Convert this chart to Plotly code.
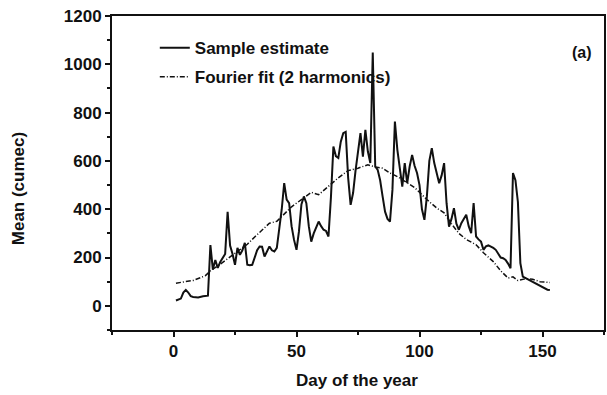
import plotly.graph_objects as go

# Sample estimate (mean daily flow, cumec)
sample_days = [1, 2, 3, 4, 5, 6, 7, 8, 10, 12, 14, 15, 16, 17, 18, 19, 20, 21, 22, 23,
               24, 25, 26, 27, 28, 29, 30, 31, 32, 34, 35, 36, 37, 38, 39, 40, 41, 42, 43, 44,
               45, 46, 47, 48, 49, 50, 51, 52, 53, 54, 55, 56, 57, 58, 59, 60, 61, 62, 63, 64,
               65, 66, 67, 68, 69, 70, 71, 72, 73, 74, 75, 76, 77, 78, 79, 80, 81, 82, 83, 84,
               85, 86, 87, 88, 89, 90, 91, 92, 93, 94, 95, 96, 97, 98, 99, 100, 101, 102, 103, 104,
               105, 106, 107, 108, 109, 110, 111, 112, 113, 114, 115, 116, 117, 118, 119, 120, 121, 122, 123, 124,
               125, 126, 127, 128, 129, 130, 131, 132, 133, 134, 135, 136, 137, 138, 139, 140, 141, 142, 144, 146,
               148, 150, 152, 153]
sample_vals = [22, 25, 30, 55, 66, 55, 40, 37, 35, 40, 42, 252, 150, 190, 157, 182, 199, 215, 389, 250,
               215, 170, 240, 211, 230, 261, 170, 168, 170, 230, 246, 245, 204, 225, 246, 230, 225, 240, 322, 400,
               508, 440, 425, 330, 273, 232, 308, 420, 453, 425, 330, 266, 300, 328, 349, 330, 315, 310, 287, 450,
               660, 620, 612, 680, 715, 720, 530, 418, 467, 560, 646, 715, 618, 729, 640, 591, 1049, 577, 563, 520,
               453, 390, 360, 349, 480, 763, 646, 560, 494, 591, 508, 577, 625, 580, 550, 500, 400, 356, 453, 600,
               653, 591, 550, 508, 540, 591, 425, 328, 360, 404, 340, 315, 342, 360, 377, 330, 301, 425, 287, 275,
               266, 232, 246, 250, 246, 240, 232, 215, 200, 197, 190, 175, 156, 550, 520, 430, 177, 121, 110, 100,
               88, 75, 67, 66]

# Fourier fit (2 harmonics)
fourier_days = [1, 5, 8, 13, 15, 18, 20, 23, 26, 30, 33, 36, 39, 42, 45, 48, 52, 56, 59, 63,
                67, 71, 75, 79, 82, 85, 88, 91, 94, 98, 100, 103, 107, 110, 113, 116, 119, 123, 126, 130,
                133, 136, 138, 140, 143, 146, 149, 153]
fourier_vals = [94, 100, 105, 125, 145, 165, 180, 204, 225, 255, 285, 315, 342, 350, 380, 410, 440, 470, 460, 495,
                530, 560, 570, 584, 575, 570, 550, 535, 515, 490, 470, 440, 405, 385, 340, 300, 275, 253, 220, 183,
                145, 115, 120, 105, 112, 110, 100, 97]

x_ticks = [0, 50, 100, 150]
y_ticks = [0, 200, 400, 600, 800, 1000, 1200]

FONT = "Liberation Sans, Arial, sans-serif"
INK = "#111111"
FS = 17

fig = go.Figure()
fig.add_trace(go.Scatter(x=sample_days, y=sample_vals, mode="lines", name="<b>Sample estimate</b>",
                         legendgroup="a",
                         line=dict(color=INK, width=2)))
fig.add_trace(go.Scatter(x=fourier_days, y=fourier_vals, mode="lines", name="<b>Fourier fit (2 harmonics)</b>",
                         legendgroup="b",
                         line=dict(color=INK, width=1.5, dash="5px,2px,1px,2px")))

fig.update_layout(
    width=607, height=395,
    margin=dict(l=112, r=1, t=16, b=65),
    paper_bgcolor="white", plot_bgcolor="white",
    font=dict(family=FONT, size=FS, color=INK),
    showlegend=True,
    legend=dict(x=0.087, y=0.955, xanchor="left", yanchor="top",
                bgcolor="rgba(0,0,0,0)", borderwidth=0,
                font=dict(family=FONT, size=FS, color=INK),
                tracegroupgap=4),
    annotations=[
        dict(text="<b>(a)</b>", xref="paper", yref="paper", x=0.955, y=0.885,
             xanchor="center", yanchor="middle", showarrow=False,
             font=dict(family=FONT, size=FS - 1, color=INK)),
        dict(text="<b>Mean (cumec)</b>", xref="paper", yref="paper", x=-0.19, y=0.45,
             xanchor="center", yanchor="middle", textangle=-90, showarrow=False,
             font=dict(family=FONT, size=FS, color=INK)),
        dict(text="<b>Day of the year</b>", xref="paper", yref="paper", x=0.498, y=-0.16,
             xanchor="center", yanchor="middle", showarrow=False,
             font=dict(family=FONT, size=FS, color=INK)),
    ],
)

fig.update_xaxes(range=[-25, 175], tickvals=x_ticks, ticktext=[f"<b>{v}</b>" for v in x_ticks],
                 ticks="outside", ticklen=5, tickwidth=1.5,
                 tickcolor=INK, showline=True, linecolor=INK, linewidth=2,
                 mirror=True, showgrid=False, zeroline=False,
                 minor=dict(dtick=25, tick0=0, ticks="outside", ticklen=3, tickcolor=INK),
                 tickfont=dict(family=FONT, size=FS))
fig.update_yaxes(range=[-100, 1200], tickvals=y_ticks, ticktext=[f"<b>{v}</b>" for v in y_ticks],
                 ticks="outside", ticklen=5, tickwidth=1.5,
                 tickcolor=INK, showline=True, linecolor=INK, linewidth=2,
                 mirror=True, showgrid=False, zeroline=False,
                 minor=dict(dtick=100, tick0=0, ticks="outside", ticklen=3, tickcolor=INK),
                 tickfont=dict(family=FONT, size=FS))

fig.write_html("out.html")
